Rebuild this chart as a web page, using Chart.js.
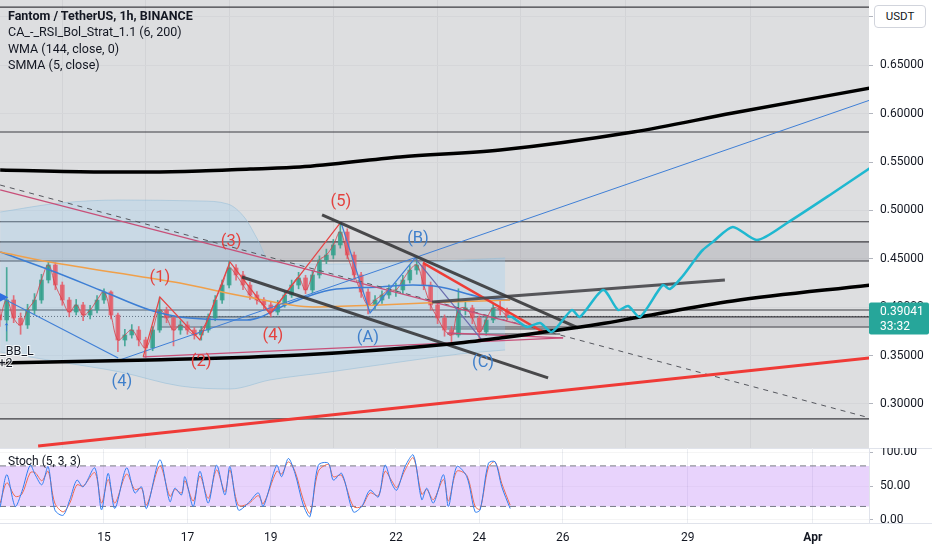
<!DOCTYPE html>
<html>
<head>
<meta charset="utf-8">
<script src="https://cdn.jsdelivr.net/npm/chart.js@4.4.1/dist/chart.umd.min.js"></script>
<style>
  body { margin: 0; background: #fff; font-family: Roboto, "Noto Sans", sans-serif; }
  #wrap { position: relative; width: 932px; height: 550px; overflow: hidden; }
  #mainBox { position: absolute; left: 0; top: 0; width: 932px; height: 448px; }
  #stochBox { position: absolute; left: 0; top: 448px; width: 932px; height: 102px; }
  #legend { position: absolute; left: 8px; top: 8px; color: #131722; font-size: 12.5px; line-height: 16.4px; }
  #legend .title { font-weight: bold; }
  #usdt { position: absolute; left: 874px; top: 5px; width: 50px; height: 21px; background: #fff;
          border: 1px solid #d1d4dc; border-radius: 4px; font-size: 11.5px; line-height: 21px;
          text-align: center; color: #131722; }
  #stochLabel { position: absolute; left: 8px; top: 454px; font-size: 12px; color: #131722; }
</style>
</head>
<body>
<div id="wrap">
  <div id="mainBox"><canvas id="mainChart"></canvas></div>
  <div id="stochBox"><canvas id="stochChart"></canvas></div>
  <div id="legend">
    <div class="title">Fantom / TetherUS, 1h, BINANCE</div>
    <div>CA_-_RSI_Bol_Strat_1.1 (6, 200)</div>
    <div>WMA (144, close, 0)</div>
    <div>SMMA (5, close)</div>
  </div>
  <div id="usdt">USDT</div>
  <div id="stochLabel">Stoch (5, 3, 3)</div>
</div>
<script>
// x values are days of March (32 = 1 Apr)
const dayTicks = [15, 17, 19, 22, 24, 26, 29, 32];
const dayTickLabels = ["15", "17", "19", "22", "24", "26", "29", "Apr"];
const priceTicks = [0.30, 0.35, 0.40, 0.45, 0.50, 0.55, 0.60, 0.65, 0.70];
const stochTicks = [0, 50, 100];
const lastPrice = 0.39041;
const lastPriceTimer = "33:32";

// 4h candles starting 12 Mar 12:00
const candleStartDay = 12.5;
const candleHours = 4;
const candleFirstOpen = 0.392;
const candleClose = [
  0.3868, 0.4074, 0.3888, 0.3816, 0.3971, 0.4074, 0.4281, 0.4436, 0.4229, 0.4074,
  0.3950, 0.4023, 0.3919, 0.3971, 0.4074, 0.4157, 0.3919, 0.3661, 0.3713, 0.3764,
  0.3661, 0.3579, 0.3764, 0.3971, 0.3888, 0.3764, 0.3816, 0.3764, 0.3713, 0.3764,
  0.3888, 0.4074, 0.4229, 0.4405, 0.4333, 0.4229, 0.4126, 0.4074, 0.4023, 0.3950,
  0.4023, 0.4126, 0.4229, 0.4302, 0.4178, 0.4333, 0.4488, 0.4539, 0.4643, 0.4777,
  0.4539, 0.4333, 0.4157, 0.4023, 0.4074, 0.4126, 0.4178, 0.4178, 0.4281, 0.4384,
  0.4436, 0.4229, 0.4023, 0.3888, 0.3764, 0.3713, 0.3971, 0.3992, 0.3888, 0.3744,
  0.3868, 0.3992, 0.3971, 0.3904
];
const candleHigh = [
  0.398, 0.441, 0.412, 0.394, 0.403, 0.414, 0.434, 0.447, 0.446, 0.426,
  0.410, 0.408, 0.405, 0.402, 0.412, 0.419, 0.417, 0.394, 0.377, 0.382,
  0.380, 0.369, 0.380, 0.410, 0.400, 0.391, 0.386, 0.385, 0.379, 0.380,
  0.393, 0.412, 0.428, 0.447, 0.444, 0.437, 0.426, 0.416, 0.410, 0.405,
  0.407, 0.417, 0.428, 0.436, 0.433, 0.438, 0.453, 0.460, 0.470, 0.488,
  0.481, 0.457, 0.436, 0.419, 0.412, 0.417, 0.423, 0.425, 0.433, 0.443,
  0.451, 0.447, 0.426, 0.406, 0.392, 0.380, 0.419, 0.405, 0.402, 0.391,
  0.391, 0.404, 0.406, 0.399
];
const candleLow = [
  0.380, 0.365, 0.384, 0.372, 0.378, 0.393, 0.404, 0.425, 0.418, 0.402,
  0.390, 0.392, 0.386, 0.388, 0.394, 0.404, 0.388, 0.354, 0.360, 0.368,
  0.360, 0.348, 0.355, 0.374, 0.384, 0.360, 0.372, 0.372, 0.367, 0.366,
  0.374, 0.386, 0.404, 0.420, 0.428, 0.418, 0.408, 0.403, 0.397, 0.390,
  0.392, 0.400, 0.410, 0.419, 0.414, 0.415, 0.430, 0.445, 0.450, 0.461,
  0.450, 0.428, 0.410, 0.393, 0.398, 0.404, 0.409, 0.411, 0.414, 0.425,
  0.434, 0.418, 0.397, 0.383, 0.370, 0.364, 0.369, 0.392, 0.383, 0.366,
  0.371, 0.384, 0.392, 0.387
];

// indicators [day, price]
const wmaLine = [[12.51, 0.4570], [13.70, 0.4467], [16.10, 0.4302], [16.82, 0.4250], [18.44, 0.4105],
  [20.01, 0.4002], [21.62, 0.4023], [23.23, 0.4054], [24.74, 0.4074]];
const bbBasis = [[12.51, 0.4570], [13.70, 0.4384], [14.90, 0.4178], [16.10, 0.3971], [16.82, 0.3899],
  [18.43, 0.3868], [19.46, 0.4043], [20.42, 0.4178], [21.62, 0.4209], [22.41, 0.4229],
  [23.06, 0.4209], [24.02, 0.4105], [24.74, 0.4074]];
const bbUpper = [[12.51, 0.4983], [13.94, 0.5076], [15.38, 0.5107], [17.30, 0.5097], [17.97, 0.5066],
  [18.38, 0.4921], [18.69, 0.4694], [18.98, 0.4467], [20.42, 0.4446], [22.58, 0.4467], [24.62, 0.4508]];
const bbLower = [[12.51, 0.3537], [13.94, 0.3434], [15.38, 0.3331], [16.82, 0.3186], [18.02, 0.3155],
  [18.98, 0.3248], [20.42, 0.3331], [22.10, 0.3434], [23.54, 0.3517], [24.62, 0.3558]];

// drawn levels and zones
const levelPrices = [0.7101, 0.5810, 0.4883, 0.4674, 0.4477, 0.3971, 0.2845];
const greyZone = [0.4674, 0.4477];
const boxZone = { start: 16.34, top: 0.3899, bottom: 0.3795 };
const smallBox = { start: 23.23, end: 25.94, top: 0.3775, bottom: 0.3723 };

// drawn trend lines [day, price]
const arcUpper = [[12.51, 0.5417], [14.90, 0.5397], [16.10, 0.5397], [17.30, 0.5407], [18.50, 0.5428],
  [19.70, 0.5448], [22.10, 0.5552], [24.50, 0.5624], [27.69, 0.5810], [30.08, 0.6006], [33.37, 0.6264]];
const arcLower = [[12.51, 0.3424], [16.10, 0.3455], [19.70, 0.3506], [23.30, 0.3620], [24.50, 0.3682],
  [26.89, 0.3826], [27.85, 0.3899], [30.08, 0.4064], [33.37, 0.4229]];
const redSupport = [[13.42, 0.2566], [33.37, 0.3475]];
const blueRay = [[15.38, 0.3455], [33.37, 0.6140]];
const blueZigzagLeft = [[12.51, 0.4105], [15.34, 0.3475]];
const blueABC = [[20.68, 0.4880], [21.38, 0.3940], [22.46, 0.4508]];
const blueBC = [[22.46, 0.4508], [24.06, 0.3661]];
const redImpulse = [[15.94, 0.3486], [16.34, 0.4105], [17.30, 0.3661], [18.02, 0.4467], [18.98, 0.3930], [20.68, 0.4880]];
const redWedgeTop = [[22.65, 0.4457], [25.53, 0.3744]];
const pinkDownTrend = [[12.51, 0.5211], [25.22, 0.3795]];
const pinkBase = [[15.94, 0.3486], [26.01, 0.3682]];
const pinkTip = [[23.23, 0.3733], [26.01, 0.3682]];
const dashedTrend = [[12.51, 0.5262], [33.37, 0.2855]];
const channelTop = [[20.23, 0.4953], [26.37, 0.3785]];
const channelBottom = [[18.31, 0.4312], [25.65, 0.3269]];
const flatResistance = [[22.87, 0.4054], [29.89, 0.4281]];
const projection = [[24.67, 0.3904], [24.78, 0.3899], [25.14, 0.3795], [25.46, 0.3837], [25.74, 0.3744],
  [26.22, 0.3971], [26.41, 0.3899], [26.97, 0.4178], [27.33, 0.3971], [27.57, 0.4012], [27.85, 0.3899],
  [28.40, 0.4229], [28.57, 0.4188], [28.86, 0.4312], [29.22, 0.4519], [29.36, 0.4591], [29.60, 0.4674],
  [30.08, 0.4829], [30.66, 0.4694], [31.38, 0.4870], [32.48, 0.5180], [33.37, 0.5438]];

// wave labels [text, day, price]
const redWaveLabels = [["(1)", 16.34, 0.4302], ["(2)", 17.33, 0.3434], ["(3)", 18.05, 0.4674],
  ["(4)", 19.05, 0.3702], ["(5)", 20.68, 0.5087]];
const blueWaveLabels = [["(4)", 15.43, 0.3227], ["(A)", 21.33, 0.3682], ["(B)", 22.53, 0.4705], ["(C)", 24.09, 0.3424]];
const signalLabels = [["_BB_L", 12.51, 0.3537], ["+2", 12.47, 0.3413]];

// stochastic
const stochTime = [12.51, 12.67, 12.87, 13.03, 13.23, 13.35, 13.51, 13.66, 13.82, 14.02,
  14.18, 14.35, 14.50, 14.78, 14.94, 15.10, 15.26, 15.54, 15.74, 15.90,
  16.02, 16.34, 16.58, 16.70, 16.86, 16.94, 17.14, 17.30, 17.50, 17.70,
  17.90, 18.02, 18.22, 18.46, 18.70, 18.82, 19.14, 19.26, 19.42, 19.58,
  19.78, 19.94, 20.14, 20.38, 20.50, 20.70, 20.98, 21.18, 21.38, 21.58,
  21.74, 21.90, 22.02, 22.22, 22.42, 22.62, 22.74, 22.90, 23.14, 23.26,
  23.46, 23.70, 23.90, 24.02, 24.22, 24.38, 24.54, 24.74];
const stochK = [19, 67, 20, 42, 81, 67, 52, 79, 15, 7,
  30, 59, 49, 77, 15, 69, 17, 77, 40, 49,
  17, 89, 27, 47, 37, 64, 20, 72, 25, 81,
  37, 79, 15, 25, 40, 20, 81, 64, 91, 69,
  22, 5, 81, 84, 59, 69, 12, 20, 44, 34,
  81, 54, 44, 79, 96, 30, 47, 25, 67, 20,
  79, 64, 12, 15, 84, 86, 49, 17];
const stochD = [25, 55, 35, 38, 70, 70, 58, 72, 25, 12,
  25, 52, 50, 70, 25, 60, 25, 68, 45, 47,
  22, 80, 35, 45, 40, 58, 28, 65, 32, 74,
  42, 74, 22, 24, 36, 24, 72, 68, 86, 72,
  30, 10, 72, 82, 64, 66, 20, 20, 40, 36,
  72, 58, 48, 74, 92, 38, 45, 30, 60, 28,
  72, 66, 20, 16, 78, 86, 54, 22];
const stochUpper = 80;
const stochLower = 20;

// ---- chart setup ----
const X_MIN = 12.506;
const X_MAX = 33.346;
const FONT = "Roboto, 'Noto Sans', sans-serif";
const TEXT = "#131722";

const pts = (list) => list.map(([x, y]) => ({ x, y }));

function line(data, color, width, order, extra) {
  return Object.assign({
    type: "line", data: pts(data), borderColor: color, borderWidth: width,
    pointRadius: 0, fill: false, tension: 0, order: order
  }, extra || {});
}

const candleTimes = candleClose.map((c, i) => candleStartDay + i * candleHours / 24);
const candleOpen = candleClose.map((c, i) => (i === 0 ? candleFirstOpen : candleClose[i - 1]));
const candleColors = candleClose.map((c, i) =>
  c >= candleOpen[i] ? "rgba(52,160,140,0.85)" : "rgba(228,92,104,0.85)");

const datasets = [];

// projection and major drawings on top
datasets.push(line(projection, "#1fb8d0", 2.5, 1, { tension: 0.25 }));
datasets.push(line(arcUpper, "#000", 3.5, 2, { cubicInterpolationMode: "monotone" }));
datasets.push(line(arcLower, "#000", 3.5, 2, { cubicInterpolationMode: "monotone" }));
datasets.push(line(redSupport, "#ef3a36", 3, 2));
datasets.push(line(channelTop, "rgba(55,55,58,0.9)", 3, 3));
datasets.push(line(channelBottom, "rgba(55,55,58,0.9)", 3, 3));
datasets.push(line(flatResistance, "rgba(70,70,74,0.9)", 3, 3));
datasets.push(line(redWedgeTop, "#ee3d36", 2.5, 3));

// wave counts and thin trend lines
datasets.push(line(redImpulse, "#e64545", 1.2, 4));
datasets.push(line(blueABC, "#3f7fd6", 1.2, 4));
datasets.push(line(blueBC, "#6a6cae", 1.2, 4));
datasets.push(line(blueZigzagLeft, "#3f7fd6", 1.2, 4));
datasets.push(line(blueRay, "#3f7fd6", 1, 4));
datasets.push(line(pinkDownTrend, "#c85079", 1.3, 4));
datasets.push(line(pinkBase, "#c85079", 1.3, 4));
datasets.push(line(pinkTip, "#c85079", 1.3, 4));
datasets.push(line(dashedTrend, "#55575e", 1, 5, { borderDash: [5, 5] }));

// indicators
datasets.push(line(wmaLine, "#f0a04a", 1.5, 6, { cubicInterpolationMode: "monotone" }));
datasets.push(line(bbBasis, "#3c7ed4", 1.5, 6, { cubicInterpolationMode: "monotone" }));
datasets.push(line(candleTimes.map((t, i) => [t, candleClose[i]]), "rgba(214,62,72,0.8)", 1, 6, { tension: 0.4 }));

// candles
datasets.push({
  type: "bar", order: 7, grouped: false, barThickness: 1,
  data: candleTimes.map((t, i) => ({ x: t, y: [candleLow[i], candleHigh[i]] })),
  backgroundColor: candleColors
});
datasets.push({
  type: "bar", order: 7, grouped: false, barThickness: 4,
  data: candleTimes.map((t, i) => ({ x: t, y: [candleOpen[i], candleClose[i]] })),
  backgroundColor: candleColors
});

// bollinger cloud
datasets.push(line(bbLower, "rgba(150,190,215,0.55)", 1, 8, { cubicInterpolationMode: "monotone" }));
datasets.push(line(bbUpper, "rgba(150,190,215,0.55)", 1, 8, {
  cubicInterpolationMode: "monotone", fill: "-1", backgroundColor: "rgba(150,205,245,0.28)"
}));

// levels and zones
levelPrices.forEach((p) => datasets.push(line([[X_MIN, p], [X_MAX, p]], "#3c3d42", 1.2, 9)));
datasets.push(line([[X_MIN, greyZone[0]], [X_MAX, greyZone[0]]], "rgba(0,0,0,0)", 0, 10, {
  fill: { target: { value: greyZone[1] } }, backgroundColor: "rgba(110,112,120,0.2)"
}));
datasets.push(line([[boxZone.start, boxZone.top], [X_MAX, boxZone.top]], "#3c3d42", 1.2, 9, {
  fill: { target: { value: boxZone.bottom } }, backgroundColor: "rgba(110,112,120,0.2)"
}));
datasets.push(line([[boxZone.start, boxZone.top], [boxZone.start, boxZone.bottom], [X_MAX, boxZone.bottom]], "#3c3d42", 1.2, 9));
datasets.push(line([[smallBox.start, smallBox.top], [smallBox.end, smallBox.top]], "#3c3d42", 1, 9));
datasets.push(line([[smallBox.start, smallBox.bottom], [smallBox.end, smallBox.bottom]], "#3c3d42", 1, 9));
datasets.push(line([[X_MIN, lastPrice], [X_MAX, lastPrice]], "#50535c", 1, 9, { borderDash: [1, 2] }));

function noPadding(scale) {
  scale.paddingTop = 0; scale.paddingBottom = 0; scale.paddingLeft = 0; scale.paddingRight = 0;
}

const mainDecor = {
  id: "mainDecor",
  beforeDraw(chart) {
    const { ctx, chartArea: a } = chart;
    ctx.save();
    ctx.fillStyle = "#dddee0";
    ctx.fillRect(a.left, a.top, a.right - a.left, a.bottom - a.top);
    ctx.restore();
  },
  afterDatasetsDraw(chart) {
    const { ctx, scales: { x, y }, chartArea: a } = chart;
    ctx.save();
    ctx.textAlign = "center";
    ctx.textBaseline = "middle";
    ctx.font = "16.5px " + FONT;
    ctx.fillStyle = "#e4423f";
    redWaveLabels.forEach(([t, d, p]) => ctx.fillText(t, x.getPixelForValue(d), y.getPixelForValue(p)));
    ctx.fillStyle = "#3f7fcb";
    blueWaveLabels.forEach(([t, d, p]) => ctx.fillText(t, x.getPixelForValue(d), y.getPixelForValue(p)));

    // strategy signal marks at the left edge
    ctx.textAlign = "left";
    ctx.font = "12.5px " + FONT;
    ctx.fillStyle = TEXT;
    ctx.strokeStyle = "rgba(255,255,255,0.8)";
    ctx.lineWidth = 2;
    signalLabels.forEach(([t, d, p]) => {
      ctx.strokeText(t, x.getPixelForValue(d), y.getPixelForValue(p));
      ctx.fillText(t, x.getPixelForValue(d), y.getPixelForValue(p));
    });
    ctx.fillStyle = "#2f6fe0";
    ctx.font = "bold 14px " + FONT;
    ctx.fillText("▶", x.getPixelForValue(12.51) - 3, y.getPixelForValue(0.4095));
    ctx.fillText("↑", x.getPixelForValue(12.58), y.getPixelForValue(0.3795));

    // last price tag
    const py = y.getPixelForValue(lastPrice);
    ctx.fillStyle = "#26a69a";
    ctx.beginPath();
    ctx.roundRect(a.right, py - 14, 60, 32, 2);
    ctx.fill();
    ctx.fillStyle = "#fff";
    ctx.font = "12px " + FONT;
    ctx.fillText(lastPrice.toFixed(5), a.right + 11, py - 4);
    ctx.fillText(lastPriceTimer, a.right + 11, py + 11);
    ctx.restore();
  }
};

new Chart(document.getElementById("mainChart"), {
  type: "line",
  data: { datasets },
  options: {
    responsive: true,
    maintainAspectRatio: false,
    animation: false,
    layout: { padding: 0 },
    plugins: { legend: { display: false }, tooltip: { enabled: false } },
    scales: {
      x: {
        type: "linear", min: X_MIN, max: X_MAX, offset: false,
        afterBuildTicks: (s) => { s.ticks = dayTicks.map((v) => ({ value: v })); },
        afterFit: (s) => { s.height = 0; noPadding(s); },
        ticks: { display: false },
        grid: { color: "#d2d3d6", drawTicks: false },
        border: { display: false }
      },
      y: {
        position: "right", min: 0.2545, max: 0.7174,
        afterBuildTicks: (s) => { s.ticks = priceTicks.map((v) => ({ value: v })); },
        afterFit: (s) => { s.width = 63; noPadding(s); },
        ticks: { color: TEXT, font: { family: FONT, size: 12 }, padding: 7, callback: (v) => v.toFixed(5) },
        grid: { color: "#d5d6d9", tickColor: "#b2b5be", tickLength: 4 },
        border: { display: false }
      }
    }
  },
  plugins: [mainDecor]
});

// ---- stochastic panel ----
const stochDecor = {
  id: "stochDecor",
  beforeDraw(chart) {
    const { ctx, chartArea: a } = chart;
    ctx.save();
    ctx.strokeStyle = "#e0e3eb";
    ctx.lineWidth = 1;
    ctx.beginPath();
    ctx.moveTo(0, a.bottom + 0.5);
    ctx.lineTo(chart.width, a.bottom + 0.5);
    ctx.moveTo(0, a.top + 0.5);
    ctx.lineTo(chart.width, a.top + 0.5);
    ctx.stroke();
    ctx.restore();
  }
};

const stochSets = [
  line(stochTime.map((t, i) => [t, stochK[i]]), "#2f7ef0", 1, 1, { tension: 0.3 }),
  line(stochTime.map((t, i) => [t, stochD[i]]), "#ee6a50", 1, 2, { tension: 0.3 }),
  line([[X_MIN, stochUpper], [X_MAX, stochUpper]], "#787b86", 1, 3, { borderDash: [6, 4] }),
  line([[X_MIN, stochLower], [X_MAX, stochLower]], "#787b86", 1, 3, { borderDash: [6, 4] }),
  line([[X_MIN, stochUpper], [X_MAX, stochUpper]], "rgba(0,0,0,0)", 0, 4, {
    fill: { target: { value: stochLower } }, backgroundColor: "rgba(180,110,245,0.3)"
  })
];

new Chart(document.getElementById("stochChart"), {
  type: "line",
  data: { datasets: stochSets },
  options: {
    responsive: true,
    maintainAspectRatio: false,
    animation: false,
    layout: { padding: 0 },
    plugins: { legend: { display: false }, tooltip: { enabled: false } },
    scales: {
      x: {
        type: "linear", min: X_MIN, max: X_MAX, offset: false,
        afterBuildTicks: (s) => { s.ticks = dayTicks.map((v) => ({ value: v })); },
        afterFit: (s) => { s.height = 27; noPadding(s); },
        ticks: {
          color: TEXT, padding: 8, maxRotation: 0, autoSkip: false,
          font: (c) => ({ family: FONT, size: 12, weight: c.index === dayTicks.length - 1 ? "bold" : "normal" }),
          callback: (v, i) => dayTickLabels[i]
        },
        grid: { color: "#eceef2", drawTicks: false },
        border: { display: false }
      },
      y: {
        position: "right", min: -4.5, max: 106.5,
        afterBuildTicks: (s) => { s.ticks = stochTicks.map((v) => ({ value: v })); },
        afterFit: (s) => { s.width = 63; noPadding(s); },
        ticks: { color: TEXT, font: { family: FONT, size: 12 }, padding: 7, callback: (v) => v.toFixed(2) },
        grid: { color: "rgba(0,0,0,0.04)", tickColor: "#b2b5be", tickLength: 4 },
        border: { display: true, color: "#e0e3eb" }
      }
    }
  },
  plugins: [stochDecor]
});
</script>
</body>
</html>
